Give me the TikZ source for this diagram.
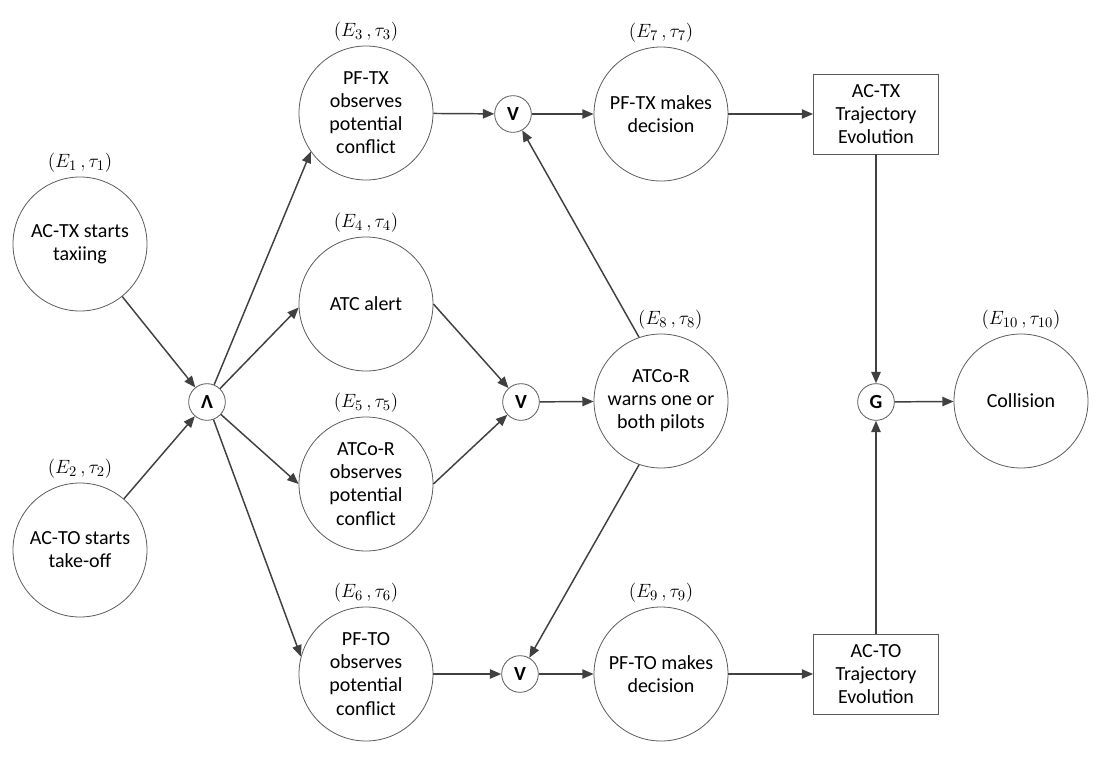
\documentclass[tikz,border=0pt]{standalone}
\usepackage{fontspec}
\setmainfont{Carlito}
\usetikzlibrary{arrows.meta}
\definecolor{linegray}{HTML}{404040}
\definecolor{circgray}{HTML}{5A5A5A}
\tikzset{
  event/.style={circle, draw=circgray, line width=0.6pt, fill=white, minimum size=100.5pt, inner sep=0pt, align=center, font=\fontsize{15}{17.3}\selectfont},
  gate/.style={circle, draw=circgray, line width=0.6pt, fill=white, minimum size=27.5pt, inner sep=0pt, font=\fontsize{15}{17}\selectfont\bfseries},
  trajbox/.style={rectangle, draw=circgray, line width=0.6pt, fill=white, minimum width=93.75pt, minimum height=60pt, inner sep=0pt, align=center, font=\fontsize{15}{17.3}\selectfont},
  evlabel/.style={anchor=south, inner sep=0pt, font=\fontsize{15}{18}\selectfont},
  conn/.style={draw=linegray, line width=1.1pt, -{Triangle[length=8.5pt,width=7pt]}},
  plain/.style={draw=linegray, line width=1.1pt}
}
\begin{document}
\begin{tikzpicture}[x=0.75pt, y=-0.75pt]
\useasboundingbox (0,0) rectangle (1107,761);
% events
\node[event] (E1) at (80,244) {AC-TX starts\\taxiing};
\node[event] (E2) at (80,550) {AC-TO starts\\take-off};
\node[event] (E3) at (366,113) {PF-TX\\observes\\potential\\conflict};
\node[event] (E4) at (366,304) {ATC alert};
\node[event] (E5) at (366,484) {ATCo-R\\observes\\potential\\conflict};
\node[event] (E6) at (366,674) {PF-TO\\observes\\potential\\conflict};
\node[event] (E7) at (661,114) {PF-TX makes\\decision};
\node[event] (E8) at (661,401) {ATCo-R\\warns one or\\both pilots};
\node[event] (E9) at (661,674) {PF-TO makes\\decision};
\node[event] (E10) at (1021,401) {Collision};
% gates
\node[gate] (AND) at (207,402) {Λ};
\node[gate] (OR1) at (513,114) {V};
\node[gate] (OR2) at (521,402) {V};
\node[gate] (OR3) at (520,674) {V};
\node[gate] (G) at (876,402) {G};
% boxes
\node[trajbox] (BTX) at (876,114) {AC-TX\\Trajectory\\Evolution};
\node[trajbox] (BTO) at (876,674) {AC-TO\\Trajectory\\Evolution};
% labels
\node[evlabel] (L1) at ([yshift=3pt]E1.north) {$(E_1\,,\tau_1)$};
\node[evlabel] (L2) at ([yshift=3pt]E2.north) {$(E_2\,,\tau_2)$};
\node[evlabel] (L3) at ([yshift=3pt]E3.north) {$(E_3\,,\tau_3)$};
\node[evlabel] (L4) at ([yshift=3pt]E4.north) {$(E_4\,,\tau_4)$};
\node[evlabel] (L5) at ([yshift=3pt]E5.north) {$(E_5\,,\tau_5)$};
\node[evlabel] (L6) at ([yshift=3pt]E6.north) {$(E_6\,,\tau_6)$};
\node[evlabel] (L7) at ([yshift=3pt]E7.north) {$(E_7\,,\tau_7)$};
\node[evlabel] (L8) at ([xshift=7pt,yshift=3pt]E8.north) {$(E_8\,,\tau_8)$};
\node[evlabel] (L9) at ([yshift=3pt]E9.north) {$(E_9\,,\tau_9)$};
\node[evlabel] (L10) at ([yshift=3pt]E10.north) {$(E_{10}\,,\tau_{10})$};
% connectors
\draw[conn] (E1) -- (AND);
\draw[conn] (E2) -- (AND);
\draw[conn] (AND) -- (E3.215);
\draw[conn] (AND) -- (E4.183);
\draw[conn] (AND) -- (E5.180);
\draw[conn] (AND) -- (E6.165);
\draw[conn] (E3) -- (OR1);
\draw[conn] (E4.east) -- (OR2);
\draw[conn] (E5.east) -- (OR2);
\draw[conn] (E6) -- (OR3);
\draw[conn] (OR1) -- (E7);
\draw[conn] (OR2) -- (E8);
\draw[conn] (OR3) -- (E9);
\draw[conn] (E8.109) -- (OR1);
\draw[conn] (E8.251) -- (OR3);
\draw[conn] (E7) -- (BTX);
\draw[conn] (E9) -- (BTO);
\draw[conn] (BTX) -- (G);
\draw[conn] (BTO) -- (G);
\draw[conn] (G) -- (E10);
\end{tikzpicture}
\end{document}
